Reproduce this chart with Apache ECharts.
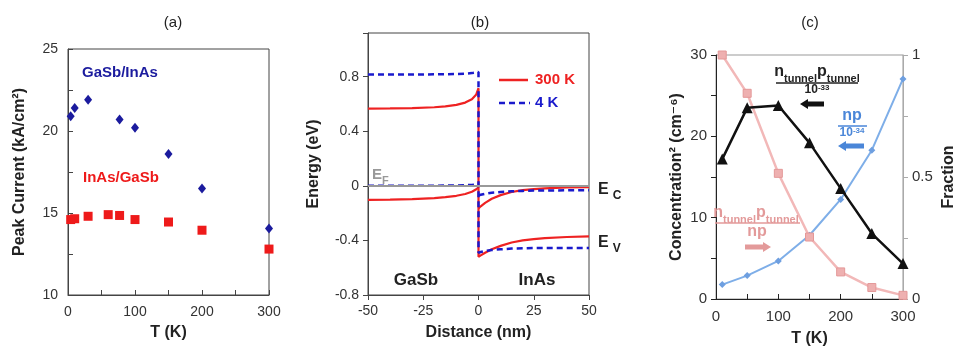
<!DOCTYPE html>
<html><head><meta charset="utf-8">
<script src="https://cdn.jsdelivr.net/npm/echarts@6/dist/echarts.min.js"></script>
<style>html,body{margin:0;padding:0;background:#fff}#c{width:953px;height:346px}</style>
</head><body><div id="c"></div>
<script>
// ---------- Panel (a): peak current vs T ----------
const tGaSbInAs = [4, 10, 30, 77, 100, 150, 200, 300];
const peakGaSbInAs = [20.9, 21.4, 21.9, 20.7, 20.2, 18.6, 16.5, 14.05];
const tInAsGaSb = [4, 10, 30, 60, 77, 100, 150, 200, 300];
const peakInAsGaSb = [14.6, 14.65, 14.8, 14.9, 14.85, 14.6, 14.45, 13.95, 12.8];

// ---------- Panel (b): band diagram ----------
const distLeft = [-50, -40, -30, -20, -15, -10, -6, -3, -1, 0];
const distRight = [0, 1, 3, 6, 10, 15, 20, 25, 30, 40, 50];
const k300UpperLeft = [0.566, 0.567, 0.570, 0.576, 0.582, 0.593, 0.610, 0.635, 0.670, 0.716];
const k300LowerLeft = [-0.103, -0.101, -0.097, -0.090, -0.083, -0.073, -0.060, -0.043, -0.025, -0.012];
const k300UpperRight = [-0.165, -0.150, -0.125, -0.095, -0.068, -0.045, -0.032, -0.024, -0.018, -0.012, -0.010];
const k300LowerRight = [-0.520, -0.510, -0.490, -0.465, -0.440, -0.415, -0.400, -0.390, -0.383, -0.375, -0.370];
const k4UpperLeft = [0.815, 0.815, 0.816, 0.817, 0.818, 0.820, 0.822, 0.826, 0.831, 0.835];
const k4LowerLeft = [0.000, 0.000, 0.000, 0.001, 0.002, 0.003, 0.005, 0.007, 0.010, 0.012];
const k4UpperRight = [-0.070, -0.065, -0.058, -0.050, -0.045, -0.040, -0.037, -0.035, -0.034, -0.033, -0.033];
const k4LowerRight = [-0.490, -0.485, -0.478, -0.470, -0.465, -0.460, -0.458, -0.456, -0.455, -0.455, -0.455];
const fermiLevel = 0;

// ---------- Panel (c): concentrations & fraction ----------
const tC = [10, 50, 100, 150, 200, 250, 300];
const tunnelConc = [17.2, 23.5, 23.8, 19.2, 13.6, 8.05, 4.35];   // n_tunnel p_tunnel / 1e-33
const npConc = [1.77, 2.88, 4.68, 7.84, 12.24, 18.3, 27.06];     // np / 1e-34
const tunnelFraction = [1.0, 0.843, 0.515, 0.254, 0.111, 0.047, 0.015];

const zip = (xs, ys) => xs.map((x, i) => [x, ys[i]]);
const FONT = 'Liberation Sans, Arial, DejaVu Sans, sans-serif';
const labelStyle = { fontFamily: FONT, fontSize: 14, color: '#333' };
const nameStyle = { fontFamily: FONT, fontSize: 16, fontWeight: 'bold', color: '#222' };

const chart = echarts.init(document.getElementById('c'), null, { renderer: 'canvas' });

function arrow(x1, x2, y, color, dir) {
  const h = 2.6, hh = 5, hl = 8;
  let pts;
  if (dir < 0) {
    pts = [[x1, y], [x1 + hl, y - hh], [x1 + hl, y - h], [x2, y - h], [x2, y + h], [x1 + hl, y + h], [x1 + hl, y + hh]];
  } else {
    pts = [[x2, y], [x2 - hl, y - hh], [x2 - hl, y - h], [x1, y - h], [x1, y + h], [x2 - hl, y + h], [x2 - hl, y + hh]];
  }
  return { type: 'polygon', shape: { points: pts }, style: { fill: color }, z: 100 };
}
function txt(x, y, text, opts) {
  return Object.assign({ type: 'text', x: x, y: y, z: 100,
    style: Object.assign({ text: text, font: 'bold 15px ' + FONT, fill: '#222', align: 'left', verticalAlign: 'middle' }, opts || {}) });
}
const subRich = (color, mainSize, subSize) => ({
  m: { fontFamily: FONT, fontSize: mainSize || 16, fontWeight: 'bold', fill: color, verticalAlign: 'bottom', padding: [0, 0, 4, 0] },
  s: { fontFamily: FONT, fontSize: subSize || 11, fontWeight: 'bold', fill: color, verticalAlign: 'bottom' },
  n: { fontFamily: FONT, fontSize: 12, fontWeight: 'bold', fill: color, verticalAlign: 'bottom', padding: [0, 0, 2, 0] },
  p: { fontFamily: FONT, fontSize: 8, fontWeight: 'bold', fill: color, verticalAlign: 'top' }
});

const option = {
  animation: false,
  backgroundColor: '#fff',
  grid: [
    { left: 68, top: 49, width: 201, height: 246, show: true, borderColor: '#444', borderWidth: 1, containLabel: false, outerBoundsMode: 'none' },
    { left: 368, top: 33, width: 221, height: 262, show: true, borderColor: '#444', borderWidth: 1, containLabel: false, outerBoundsMode: 'none' },
    { left: 716, top: 55, width: 187, height: 244, show: true, borderColor: '#999', borderWidth: 1, containLabel: false, outerBoundsMode: 'none' }
  ],
  xAxis: [
    { type: 'value', gridIndex: 0, min: 0, max: 300, interval: 50,
      name: 'T (K)', nameLocation: 'middle', nameGap: 30, nameTextStyle: nameStyle,
      axisLine: { lineStyle: { color: '#444' } }, axisTick: { inside: true, length: 5, lineStyle: { color: '#444' } },
      axisLabel: Object.assign({ margin: 10, formatter: v => (v % 100 === 0 ? String(v) : '') }, labelStyle),
      splitLine: { show: false } },
    { type: 'value', gridIndex: 1, min: -50, max: 50, interval: 25,
      name: 'Distance (nm)', nameLocation: 'middle', nameGap: 30, nameTextStyle: nameStyle,
      axisLine: { onZero: false, lineStyle: { color: '#444' } }, axisTick: { length: 5, lineStyle: { color: '#444' } },
      axisLabel: Object.assign({ margin: 9 }, labelStyle),
      splitLine: { show: false } },
    { type: 'value', gridIndex: 2, min: 0, max: 300, interval: 50,
      name: 'T (K)', nameLocation: 'middle', nameGap: 32, nameTextStyle: nameStyle,
      axisLine: { lineStyle: { color: '#222' } }, axisTick: { inside: true, length: 5, lineStyle: { color: '#222' } },
      axisLabel: Object.assign({ margin: 10, formatter: v => (v % 100 === 0 ? String(v) : '') }, labelStyle, { fontSize: 15 }),
      splitLine: { show: false } }
  ],
  yAxis: [
    { type: 'value', gridIndex: 0, min: 10, max: 25, interval: 2.5,
      name: 'Peak Current (kA/cm²)', nameLocation: 'middle', nameGap: 40, nameTextStyle: nameStyle,
      axisLine: { lineStyle: { color: '#444' } }, axisTick: { inside: true, length: 5, lineStyle: { color: '#444' } },
      axisLabel: Object.assign({ margin: 10, formatter: v => (v % 5 === 0 ? String(v) : '') }, labelStyle),
      splitLine: { show: false } },
    { type: 'value', gridIndex: 1, min: -0.8, max: 1.12, interval: 0.4,
      name: 'Energy (eV)', nameLocation: 'middle', nameGap: 46, nameTextStyle: nameStyle,
      axisLine: { onZero: false, lineStyle: { color: '#444' } }, axisTick: { length: 5, lineStyle: { color: '#444' } },
      axisLabel: Object.assign({ margin: 9, formatter: v => {
        const r = Math.round(v * 10) / 10;
        if (v > 0.81 || Math.abs(Math.round(r / 0.4) * 0.4 - r) > 1e-6) return '';
        return String(r);
      } }, labelStyle),
      splitLine: { show: false } },
    { type: 'value', gridIndex: 2, min: 0, max: 30, interval: 5,
      name: 'Concentration² (cm⁻⁶)', nameLocation: 'middle', nameGap: 31, nameTextStyle: nameStyle,
      axisLine: { lineStyle: { color: '#222' } }, axisTick: { length: 5, lineStyle: { color: '#222' } },
      axisLabel: Object.assign({ margin: 9, formatter: v => (v % 10 === 0 ? String(v) : '') }, labelStyle, { fontSize: 15 }),
      splitLine: { show: false } },
    { type: 'value', gridIndex: 2, position: 'right', min: 0, max: 1, interval: 0.25,
      name: 'Fraction', nameLocation: 'middle', nameGap: 38, nameRotate: 90, nameTextStyle: nameStyle,
      axisLine: { lineStyle: { color: '#aaa' } }, axisTick: { length: 5, lineStyle: { color: '#aaa' } },
      axisLabel: Object.assign({ margin: 9, formatter: v => (v === 0 ? '0' : v === 0.5 ? '0.5' : v === 1 ? '1' : '') }, labelStyle, { fontSize: 15 }),
      splitLine: { show: false } }
  ],
  series: [
    // (a)
    { type: 'scatter', xAxisIndex: 0, yAxisIndex: 0, data: zip(tGaSbInAs, peakGaSbInAs),
      symbol: 'diamond', symbolSize: [8, 10], itemStyle: { color: '#1b1b9e', opacity: 1 } },
    { type: 'scatter', xAxisIndex: 0, yAxisIndex: 0, data: zip(tInAsGaSb, peakInAsGaSb),
      symbol: 'rect', symbolSize: 9, itemStyle: { color: '#ee1a1a', opacity: 1 } },
    // (b)
    { type: 'line', xAxisIndex: 1, yAxisIndex: 1, symbol: 'none', silent: true,
      data: [[distLeft[0], fermiLevel]],
      lineStyle: { width: 0 },
      markLine: { silent: true, symbol: 'none', label: { show: false },
        lineStyle: { color: '#999', width: 2, type: 'solid' }, data: [{ yAxis: fermiLevel }] } },
    { type: 'line', xAxisIndex: 1, yAxisIndex: 1, symbol: 'none',
      data: zip(distLeft, k300UpperLeft).concat(zip(distRight, k300LowerRight)),
      lineStyle: { color: '#ee2222', width: 2.2 } },
    { type: 'line', xAxisIndex: 1, yAxisIndex: 1, symbol: 'none',
      data: zip(distLeft, k300LowerLeft), lineStyle: { color: '#ee2222', width: 2.2 } },
    { type: 'line', xAxisIndex: 1, yAxisIndex: 1, symbol: 'none',
      data: zip(distRight, k300UpperRight), lineStyle: { color: '#ee2222', width: 2.2 } },
    { type: 'line', xAxisIndex: 1, yAxisIndex: 1, symbol: 'none',
      data: zip(distLeft, k4UpperLeft).concat(zip(distRight, k4LowerRight)),
      lineStyle: { color: '#1a1acc', width: 2.5, type: [6, 4] } },
    { type: 'line', xAxisIndex: 1, yAxisIndex: 1, symbol: 'none',
      data: zip(distLeft, k4LowerLeft), lineStyle: { color: '#1a1acc', width: 2.5, type: [6, 4] } },
    { type: 'line', xAxisIndex: 1, yAxisIndex: 1, symbol: 'none',
      data: zip(distRight, k4UpperRight), lineStyle: { color: '#1a1acc', width: 2.5, type: [6, 4] } },
    // (c)
    { type: 'line', xAxisIndex: 2, yAxisIndex: 2, data: zip(tC, npConc),
      symbol: 'diamond', symbolSize: 7, itemStyle: { color: '#6e9fe0' }, lineStyle: { color: '#7eaee8', width: 2 } },
    { type: 'line', xAxisIndex: 2, yAxisIndex: 3, data: zip(tC, tunnelFraction),
      symbol: 'rect', symbolSize: 8, itemStyle: { color: '#eeb0b0', borderColor: '#e49898', borderWidth: 1 },
      lineStyle: { color: '#f2b8b8', width: 2.5 } },
    { type: 'line', xAxisIndex: 2, yAxisIndex: 2, data: zip(tC, tunnelConc),
      symbol: 'triangle', symbolSize: 11, itemStyle: { color: '#111' }, lineStyle: { color: '#111', width: 2.5 } }
  ],
  graphic: [
    txt(173, 23, '(a)', { font: '15px ' + FONT, align: 'center', fill: '#222' }),
    txt(480, 23, '(b)', { font: '15px ' + FONT, align: 'center', fill: '#222' }),
    txt(810, 23, '(c)', { font: '15px ' + FONT, align: 'center', fill: '#222' }),
    // (a)
    txt(82, 73, 'GaSb/InAs', { fill: '#1b1b9e' }),
    txt(83, 178, 'InAs/GaSb', { fill: '#ee1a1a' }),
    // (b)
    { type: 'line', shape: { x1: 499, y1: 80, x2: 528, y2: 80 }, style: { stroke: '#ee2222', lineWidth: 2.5 }, z: 100 },
    txt(535, 80, '300 K', { fill: '#ee2222' }),
    { type: 'line', shape: { x1: 499, y1: 103, x2: 530, y2: 103 }, style: { stroke: '#1a1acc', lineWidth: 2.5, lineDash: [6, 4] }, z: 100 },
    txt(535, 103, '4 K', { fill: '#1a1acc' }),
    txt(372, 177, '', { rich: subRich('#999', 15, 11), text: '{m|E}{s|F}' }),
    txt(598, 192, '', { rich: subRich('#222', 16, 12), text: '{m|E} {s|C}' }),
    txt(598, 245, '', { rich: subRich('#222', 16, 12), text: '{m|E} {s|V}' }),
    txt(416, 280, 'GaSb', { font: 'bold 17px ' + FONT, align: 'center', fill: '#222' }),
    txt(537, 280, 'InAs', { font: 'bold 17px ' + FONT, align: 'center', fill: '#222' }),
    // (c) black annotation
    txt(817, 74, '', { align: 'center', rich: subRich('#222'), text: '{m|n}{s|tunnel}{m|p}{s|tunnel}' }),
    { type: 'line', shape: { x1: 776, y1: 83, x2: 858, y2: 83 }, style: { stroke: '#222', lineWidth: 1.5 }, z: 100 },
    txt(817, 91, '', { align: 'center', rich: subRich('#222'), text: '{n|10}{p|-33}' }),
    arrow(800, 824, 104, '#111', -1),
    // (c) blue annotation
    txt(852, 118, '', { align: 'center', rich: subRich('#4a86d8'), text: '{m|np}' }),
    { type: 'line', shape: { x1: 838, y1: 126, x2: 867, y2: 126 }, style: { stroke: '#4a86d8', lineWidth: 1.5 }, z: 100 },
    txt(852, 134, '', { align: 'center', rich: subRich('#4a86d8'), text: '{n|10}{p|-34}' }),
    arrow(838, 864, 146, '#4a86d8', -1),
    // (c) pink annotation
    txt(756, 215, '', { align: 'center', rich: subRich('#e39a9a'), text: '{m|n}{s|tunnel}{m|p}{s|tunnel}' }),
    { type: 'line', shape: { x1: 715, y1: 223, x2: 800, y2: 223 }, style: { stroke: '#e39a9a', lineWidth: 1.5 }, z: 100 },
    txt(757, 232, 'np', { align: 'center', font: 'bold 16px ' + FONT, fill: '#e39a9a' }),
    arrow(745, 771, 247, '#e39a9a', 1)
  ]
};
chart.setOption(option);
</script></body></html>
